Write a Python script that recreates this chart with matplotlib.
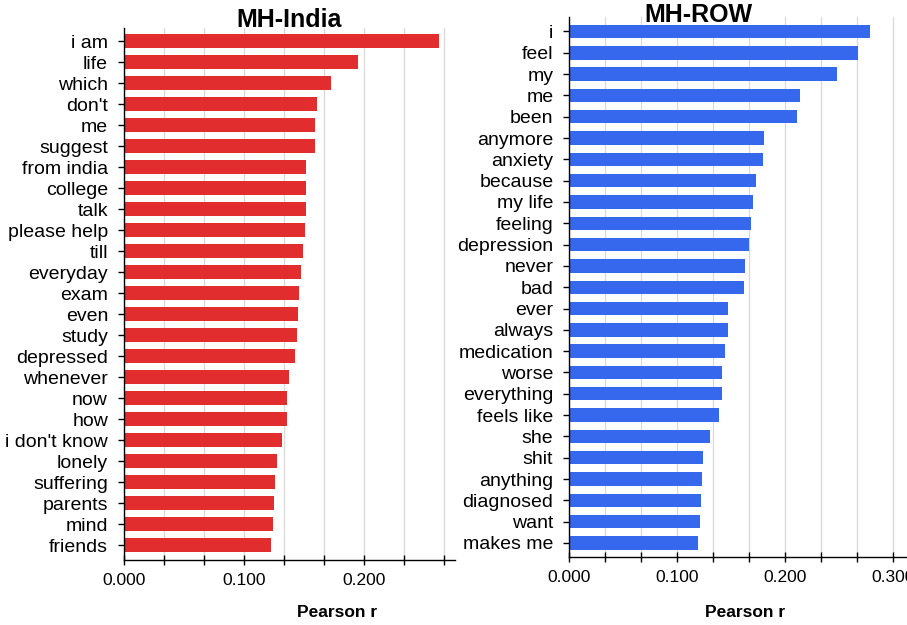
import matplotlib
matplotlib.use('Agg')
import matplotlib.pyplot as plt
from matplotlib.ticker import MultipleLocator, FormatStrFormatter
import numpy as np

plt.rcParams['font.family'] = ['Liberation Sans', 'DejaVu Sans']

# Data (top to bottom)
india_terms = ['i am', 'life', 'which', "don't", 'me', 'suggest', 'from india',
               'college', 'talk', 'please help', 'till', 'everyday', 'exam', 'even',
               'study', 'depressed', 'whenever', 'now', 'how', "i don't know",
               'lonely', 'suffering', 'parents', 'mind', 'friends']
india_r = [0.263, 0.195, 0.173, 0.161, 0.159, 0.159, 0.152, 0.152, 0.152, 0.151,
           0.149, 0.148, 0.146, 0.145, 0.144, 0.143, 0.138, 0.136, 0.136, 0.132,
           0.128, 0.126, 0.125, 0.124, 0.123]

row_terms = ['i', 'feel', 'my', 'me', 'been', 'anymore', 'anxiety', 'because',
             'my life', 'feeling', 'depression', 'never', 'bad', 'ever', 'always',
             'medication', 'worse', 'everything', 'feels like', 'she', 'shit',
             'anything', 'diagnosed', 'want', 'makes me']
row_r = [0.278, 0.267, 0.248, 0.214, 0.211, 0.180, 0.179, 0.173, 0.170, 0.168,
         0.166, 0.163, 0.162, 0.147, 0.147, 0.144, 0.141, 0.141, 0.139, 0.130,
         0.124, 0.123, 0.122, 0.121, 0.119]

fig = plt.figure(figsize=(9.07, 6.25), dpi=100)
ax1 = fig.add_axes([0.1367, 0.104, 0.3649, 0.8512])
ax2 = fig.add_axes([0.6277, 0.1088, 0.3723, 0.864])


def style(ax, terms, vals, color, xmax, ylim):
    y = np.arange(len(terms))
    ax.set_axisbelow(True)
    ax.barh(y, vals, height=0.63, color=color, zorder=2)
    ax.set_yticks(y)
    ax.set_yticklabels(terms, fontsize=14)
    ax.set_ylim(*ylim)
    ax.set_xlim(0, xmax)
    ax.xaxis.set_major_locator(MultipleLocator(0.1))
    ax.xaxis.set_minor_locator(MultipleLocator(1 / 30))
    ax.xaxis.set_major_formatter(FormatStrFormatter('%.3f'))
    ax.tick_params(axis='x', which='both', direction='inout', length=6.5,
                   width=1, labelsize=12.5, pad=6)
    ax.tick_params(axis='y', direction='inout', length=8.6, width=1, pad=7.2)
    ax.grid(axis='x', which='both', color='#d8d8d8', linewidth=0.9)
    ax.grid(axis='y', visible=False)
    for s in ['top', 'right']:
        ax.spines[s].set_visible(False)
    for s in ['left', 'bottom']:
        ax.spines[s].set_linewidth(1)
        ax.spines[s].set_color('black')


style(ax1, india_terms, india_r, '#e12d2d', 0.276, (24.71, -0.62))
style(ax2, row_terms, row_r, '#3568ec', 0.3127, (24.66, -0.68))

ax1.text(0.5, 1.002, 'MH-India', transform=ax1.transAxes, ha='center',
         va='baseline', fontsize=18, fontweight='bold')
# title box sits above the grid but under the bars
ax2.text(0.382, 0.991, 'MH-ROW', transform=ax2.transAxes, ha='center',
         va='baseline', fontsize=18, fontweight='bold', zorder=1.5,
         bbox=dict(facecolor='white', edgecolor='none', pad=2))

ax1.text(0.643, -0.0996, 'Pearson r', transform=ax1.transAxes, ha='center',
         va='center', fontsize=12.5, fontweight='bold')
ax2.text(0.52, -0.1037, 'Pearson r', transform=ax2.transAxes, ha='center',
         va='center', fontsize=12.5, fontweight='bold')

fig.savefig('out.png', dpi=100)
